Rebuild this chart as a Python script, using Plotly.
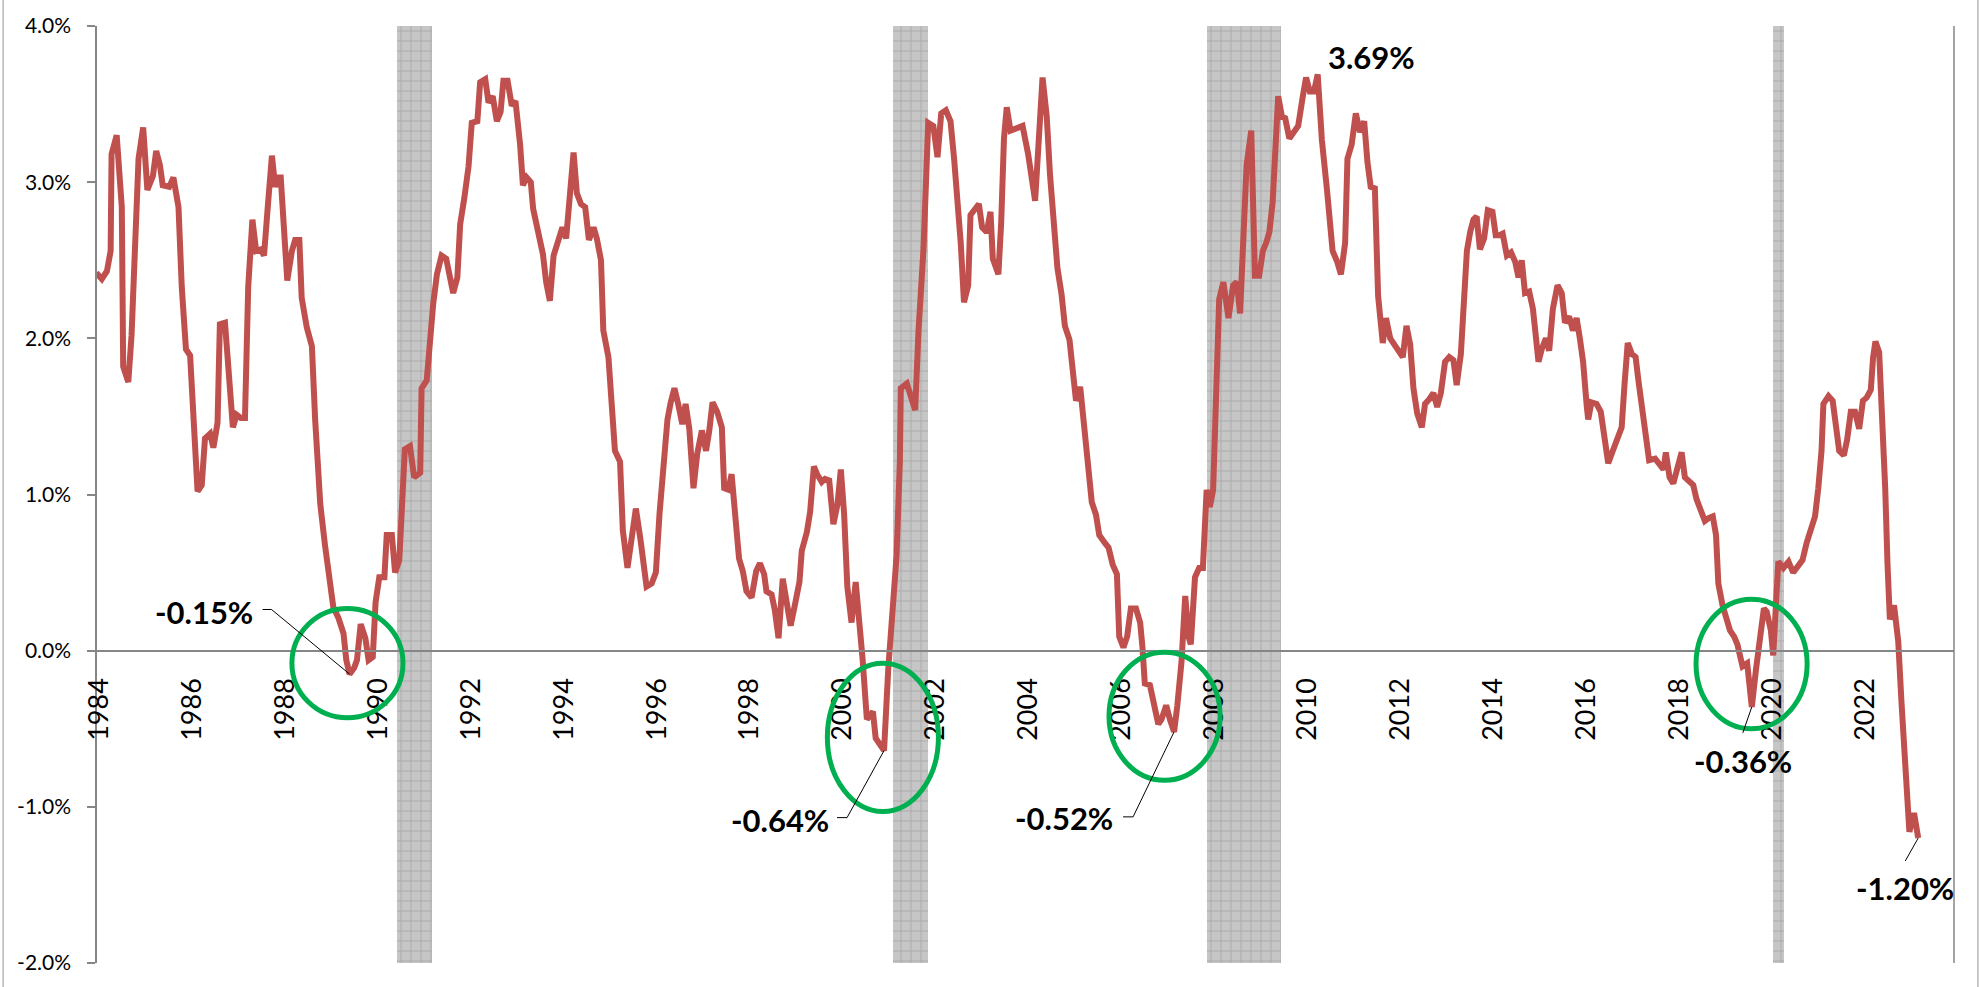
import plotly.graph_objects as go

# Monthly spread series (decimal year, percent)
years = [
    1983.94, 1984.06, 1984.17, 1984.25, 1984.27, 1984.38, 1984.49, 1984.52, 1984.63, 1984.70,
    1984.85, 1984.95, 1985.04, 1985.16, 1985.23, 1985.31, 1985.37, 1985.51, 1985.60, 1985.71,
    1985.78, 1985.87, 1985.96, 1986.03, 1986.12, 1986.21, 1986.28, 1986.39, 1986.46, 1986.55,
    1986.60, 1986.71, 1986.80, 1986.88, 1986.96, 1987.05, 1987.14, 1987.21, 1987.30, 1987.38,
    1987.48, 1987.55, 1987.63, 1987.72, 1987.79, 1987.85, 1987.91, 1987.97, 1988.05, 1988.15,
    1988.22, 1988.31, 1988.36, 1988.47, 1988.58, 1988.65, 1988.76, 1988.86, 1988.97, 1989.04,
    1989.15, 1989.26, 1989.32, 1989.39, 1989.49, 1989.55, 1989.63, 1989.73, 1989.80, 1989.89,
    1989.95, 1990.03, 1990.14, 1990.19, 1990.30, 1990.37, 1990.46, 1990.58, 1990.69, 1990.78,
    1990.91, 1990.94, 1991.05, 1991.12, 1991.19, 1991.27, 1991.37, 1991.47, 1991.55, 1991.62,
    1991.71, 1991.77, 1991.86, 1991.95, 1992.02, 1992.14, 1992.20, 1992.31, 1992.38, 1992.47,
    1992.56, 1992.64, 1992.70, 1992.79, 1992.88, 1992.96, 1993.06, 1993.12, 1993.20, 1993.29,
    1993.34, 1993.45, 1993.55, 1993.62, 1993.70, 1993.78, 1993.88, 1993.97, 1994.05, 1994.13,
    1994.21, 1994.28, 1994.37, 1994.46, 1994.54, 1994.64, 1994.71, 1994.80, 1994.85, 1994.96,
    1995.03, 1995.10, 1995.21, 1995.27, 1995.37, 1995.47, 1995.55, 1995.65, 1995.78, 1995.89,
    1995.98, 1996.06, 1996.14, 1996.23, 1996.30, 1996.38, 1996.46, 1996.55, 1996.62, 1996.70,
    1996.79, 1996.87, 1996.97, 1997.06, 1997.13, 1997.20, 1997.30, 1997.40, 1997.45, 1997.54,
    1997.61, 1997.68, 1997.77, 1997.85, 1997.93, 1998.04, 1998.14, 1998.22, 1998.31, 1998.36,
    1998.47, 1998.54, 1998.62, 1998.71, 1998.80, 1998.88, 1998.97, 1999.07, 1999.12, 1999.23,
    1999.30, 1999.38, 1999.45, 1999.55, 1999.62, 1999.71, 1999.80, 1999.89, 1999.96, 2000.03,
    2000.10, 2000.19, 2000.28, 2000.35, 2000.43, 2000.52, 2000.65, 2000.71, 2000.79, 2000.89,
    2000.98, 2001.09, 2001.16, 2001.23, 2001.25, 2001.38, 2001.45, 2001.56, 2001.63, 2001.74,
    2001.84, 2001.95, 2002.04, 2002.12, 2002.22, 2002.32, 2002.40, 2002.47, 2002.54, 2002.61,
    2002.70, 2002.75, 2002.84, 2002.93, 2003.00, 2003.10, 2003.18, 2003.23, 2003.35, 2003.41,
    2003.47, 2003.53, 2003.61, 2003.72, 2003.87, 2003.99, 2004.14, 2004.30, 2004.39, 2004.46,
    2004.53, 2004.62, 2004.71, 2004.78, 2004.88, 2004.95, 2005.02, 2005.11, 2005.19, 2005.27,
    2005.36, 2005.45, 2005.52, 2005.64, 2005.72, 2005.81, 2005.90, 2005.95, 2006.04, 2006.12,
    2006.20, 2006.31, 2006.40, 2006.45, 2006.50, 2006.61, 2006.70, 2006.79, 2006.86, 2006.96,
    2007.04, 2007.13, 2007.20, 2007.29, 2007.37, 2007.44, 2007.49, 2007.58, 2007.67, 2007.75,
    2007.83, 2007.90, 2007.97, 2008.05, 2008.10, 2008.19, 2008.30, 2008.40, 2008.48, 2008.55,
    2008.63, 2008.69, 2008.79, 2008.84, 2008.87, 2008.96, 2009.04, 2009.11, 2009.18, 2009.25,
    2009.30, 2009.37, 2009.45, 2009.52, 2009.61, 2009.70, 2009.80, 2009.90, 2009.97, 2010.05,
    2010.14, 2010.22, 2010.31, 2010.42, 2010.54, 2010.64, 2010.72, 2010.81, 2010.86, 2010.95,
    2011.04, 2011.13, 2011.22, 2011.29, 2011.36, 2011.45, 2011.52, 2011.62, 2011.69, 2011.78,
    2011.86, 2011.95, 2012.05, 2012.13, 2012.21, 2012.28, 2012.36, 2012.46, 2012.53, 2012.62,
    2012.71, 2012.79, 2012.87, 2012.96, 2013.05, 2013.14, 2013.21, 2013.30, 2013.35, 2013.43,
    2013.50, 2013.57, 2013.64, 2013.71, 2013.80, 2013.88, 2013.98, 2014.05, 2014.13, 2014.20,
    2014.29, 2014.38, 2014.47, 2014.54, 2014.61, 2014.68, 2014.77, 2014.85, 2014.90, 2014.97,
    2015.04, 2015.13, 2015.20, 2015.28, 2015.38, 2015.47, 2015.54, 2015.63, 2015.71, 2015.79,
    2015.86, 2015.93, 2016.01, 2016.04, 2016.11, 2016.22, 2016.31, 2016.38, 2016.47, 2016.57,
    2016.67, 2016.76, 2016.82, 2016.89, 2016.98, 2017.06, 2017.12, 2017.19, 2017.26, 2017.35,
    2017.48, 2017.57, 2017.66, 2017.71, 2017.79, 2017.87, 2017.96, 2018.05, 2018.12, 2018.22,
    2018.30, 2018.37, 2018.45, 2018.55, 2018.64, 2018.72, 2018.79, 2018.84, 2018.93, 2019.02,
    2019.09, 2019.18, 2019.25, 2019.32, 2019.36, 2019.46, 2019.56, 2019.65, 2019.74, 2019.82,
    2019.88, 2019.97, 2020.02, 2020.09, 2020.13, 2020.24, 2020.35, 2020.45, 2020.56, 2020.65,
    2020.74, 2020.83, 2020.92, 2020.99, 2021.06, 2021.10, 2021.21, 2021.30, 2021.37, 2021.44,
    2021.54, 2021.61, 2021.69, 2021.78, 2021.87, 2021.95, 2022.03, 2022.12, 2022.17, 2022.22,
    2022.30, 2022.35, 2022.43, 2022.48, 2022.53, 2022.62, 2022.71, 2022.78, 2022.86, 2022.95,
    2023.05, 2023.14,
]

spread = [
    2.42, 2.38, 2.43, 2.56, 3.18, 3.30, 2.84, 1.82, 1.72, 2.02,
    3.15, 3.35, 2.95, 3.04, 3.20, 3.11, 2.98, 2.97, 3.03, 2.84,
    2.33, 1.93, 1.89, 1.48, 1.02, 1.06, 1.36, 1.39, 1.30, 1.46,
    2.09, 2.10, 1.70, 1.43, 1.51, 1.49, 1.49, 2.33, 2.76, 2.56,
    2.57, 2.53, 2.84, 3.17, 2.97, 3.03, 3.03, 2.76, 2.37, 2.56,
    2.63, 2.63, 2.26, 2.07, 1.95, 1.48, 0.94, 0.68, 0.43, 0.28,
    0.21, 0.11, -0.06, -0.15, -0.11, -0.06, 0.17, 0.08, -0.06, -0.04,
    0.31, 0.47, 0.47, 0.74, 0.74, 0.50, 0.58, 1.29, 1.31, 1.11,
    1.14, 1.68, 1.73, 1.99, 2.22, 2.41, 2.53, 2.51, 2.39, 2.29,
    2.39, 2.73, 2.90, 3.10, 3.38, 3.39, 3.64, 3.66, 3.51, 3.55,
    3.39, 3.45, 3.65, 3.65, 3.49, 3.52, 3.24, 2.98, 3.03, 3.00,
    2.83, 2.67, 2.54, 2.36, 2.24, 2.53, 2.64, 2.71, 2.64, 2.90,
    3.19, 2.93, 2.86, 2.84, 2.63, 2.71, 2.64, 2.50, 2.05, 1.88,
    1.51, 1.28, 1.21, 0.77, 0.53, 0.74, 0.91, 0.71, 0.41, 0.43,
    0.50, 0.88, 1.22, 1.48, 1.59, 1.68, 1.58, 1.45, 1.58, 1.42,
    1.04, 1.26, 1.41, 1.28, 1.41, 1.59, 1.53, 1.43, 1.04, 1.03,
    1.13, 0.91, 0.59, 0.51, 0.38, 0.34, 0.51, 0.56, 0.49, 0.38,
    0.36, 0.26, 0.08, 0.46, 0.31, 0.16, 0.29, 0.44, 0.64, 0.76,
    0.89, 1.18, 1.13, 1.08, 1.10, 1.09, 0.81, 0.94, 1.16, 0.88,
    0.41, 0.18, 0.44, 0.24, -0.06, -0.44, -0.39, -0.56, -0.60, -0.64,
    -0.12, 0.28, 0.61, 1.21, 1.68, 1.71, 1.64, 1.54, 2.04, 2.58,
    3.38, 3.36, 3.16, 3.44, 3.46, 3.39, 3.14, 2.91, 2.61, 2.23,
    2.34, 2.79, 2.82, 2.86, 2.71, 2.68, 2.81, 2.51, 2.41, 2.74,
    3.28, 3.48, 3.33, 3.34, 3.36, 3.18, 2.88, 3.67, 3.42, 3.05,
    2.74, 2.45, 2.28, 2.08, 1.99, 1.82, 1.60, 1.69, 1.48, 1.20,
    0.95, 0.87, 0.74, 0.69, 0.66, 0.55, 0.49, 0.09, 0.02, 0.09,
    0.27, 0.27, 0.18, 0.02, -0.21, -0.22, -0.35, -0.47, -0.44, -0.35,
    -0.44, -0.52, -0.35, -0.07, 0.35, 0.09, 0.04, 0.47, 0.53, 0.53,
    1.03, 0.92, 1.03, 1.88, 2.25, 2.36, 2.13, 2.34, 2.36, 2.16,
    2.81, 3.11, 3.33, 2.87, 2.40, 2.40, 2.56, 2.61, 2.68, 2.87,
    3.18, 3.55, 3.42, 3.41, 3.28, 3.32, 3.36, 3.55, 3.67, 3.58,
    3.58, 3.69, 3.27, 2.95, 2.56, 2.49, 2.41, 2.61, 3.15, 3.24,
    3.44, 3.32, 3.39, 3.13, 2.97, 2.96, 2.27, 1.97, 2.13, 2.00,
    1.96, 1.93, 1.88, 2.08, 1.96, 1.68, 1.52, 1.43, 1.58, 1.61,
    1.65, 1.56, 1.65, 1.85, 1.88, 1.86, 1.70, 1.90, 2.19, 2.56,
    2.68, 2.76, 2.78, 2.57, 2.64, 2.82, 2.81, 2.66, 2.66, 2.67,
    2.53, 2.55, 2.49, 2.39, 2.50, 2.29, 2.30, 2.19, 2.05, 1.85,
    1.93, 2.00, 1.92, 2.19, 2.34, 2.29, 2.10, 2.14, 2.05, 2.13,
    2.00, 1.85, 1.56, 1.48, 1.59, 1.58, 1.53, 1.36, 1.20, 1.28,
    1.36, 1.43, 1.70, 1.97, 1.90, 1.88, 1.73, 1.55, 1.42, 1.22,
    1.23, 1.20, 1.16, 1.27, 1.11, 1.07, 1.18, 1.27, 1.11, 1.08,
    1.06, 0.97, 0.90, 0.83, 0.85, 0.86, 0.74, 0.43, 0.29, 0.20,
    0.13, 0.09, 0.04, -0.05, -0.10, -0.08, -0.36, -0.12, 0.11, 0.27,
    0.25, 0.13, -0.03, 0.34, 0.57, 0.53, 0.57, 0.50, 0.55, 0.58,
    0.69, 0.79, 0.86, 1.04, 1.28, 1.58, 1.63, 1.60, 1.44, 1.28,
    1.25, 1.35, 1.53, 1.53, 1.42, 1.60, 1.62, 1.67, 1.88, 1.98,
    1.91, 1.60, 1.04, 0.55, 0.20, 0.29, 0.06, -0.33, -0.75, -1.16,
    -1.04, -1.20,
]

# Recession periods (decimal years)
rec_start = [1990.42, 2001.08, 2007.84, 2020.02]
rec_end = [1991.17, 2001.84, 2009.43, 2020.26]

# Axis ticks
x_ticks = list(range(1984, 2023, 2))
y_ticks = [-2, -1, 0, 1, 2, 3, 4]
y_tick_text = ["-2.0%", "-1.0%", "0.0%", "1.0%", "2.0%", "3.0%", "4.0%"]

# Highlighted turning points: (year, value, text offset px, leader path px, text anchor)
callouts = [
    (1989.39, -0.15, (-95, 62), "M0,0 L-78,64.6 L-87,64.6", "right"),
    (2000.89, -0.64, (-53, -69), "M0,0 L-37,-67 L-47,-67", "right"),
    (2007.13, -0.52, (-59, -86), "M0,0 L-41,-85 L-51,-85", "right"),
    (2019.56, -0.36, (-9, -54), "M0,0 L-9,-26", "center"),
    (2023.14, -1.20, (-13, -50), "M0,0 L-13,-23", "center"),
    (2010.22, 3.69, (54, 17), None, "center"),
]

# Circled troughs: (x0, x1, y0, y1) in axis units
circles = [
    (1988.15, 1990.54, -0.43, 0.27),
    (1999.67, 2002.06, -1.03, -0.08),
    (2005.73, 2008.12, -0.83, -0.01),
    (2018.36, 2020.75, -0.50, 0.33),
]

RED = "#C0504D"
GREEN = "#00B050"
AXIS = "#868686"
FONT = "Lato"

fig = go.Figure()

# Shaded recession bands with a grid hatch
fig.add_trace(go.Bar(
    x=[(a + b) / 2 for a, b in zip(rec_start, rec_end)],
    y=[6] * len(rec_start),
    base=-2,
    width=[b - a for a, b in zip(rec_start, rec_end)],
    marker=dict(
        color="#c6c6c6",
        line=dict(width=0),
        pattern=dict(shape="+", size=10, solidity=0.18,
                     fgcolor="#8e8e8e", bgcolor="#c6c6c6"),
    ),
    hoverinfo="skip",
    showlegend=False,
))

fig.add_trace(go.Scatter(
    x=years, y=spread, mode="lines",
    line=dict(color=RED, width=6),
    showlegend=False,
))

shapes = []
for x0, x1, y0, y1 in circles:
    shapes.append(dict(type="circle", xref="x", yref="y", x0=x0, x1=x1, y0=y0, y1=y1,
                       line=dict(color=GREEN, width=5), layer="above"))

annotations = []
for yr, val, (dx, dy), path, anchor in callouts:
    if path:
        shapes.append(dict(type="path", xref="x", yref="y",
                           xsizemode="pixel", ysizemode="pixel",
                           xanchor=yr, yanchor=val, path=path,
                           line=dict(color="black", width=1)))
    annotations.append(dict(
        x=yr, y=val, xref="x", yref="y", text=f"{val:.2f}%",
        showarrow=False, xanchor=anchor, yanchor="middle",
        xshift=dx, yshift=dy,
        font=dict(family=FONT, size=31, color="black", weight="bold"),
    ))

# Right edge of the plot area and outer chart frame
shapes.append(dict(type="line", xref="paper", yref="paper", x0=1, x1=1, y0=0, y1=1,
                   line=dict(color=AXIS, width=1.5)))
for xp in (-0.0500, 1.0129):
    shapes.append(dict(type="line", xref="paper", yref="paper", x0=xp, x1=xp,
                       y0=-0.03, y1=1.03, line=dict(color="#a6a6a6", width=1.2)))

fig.update_layout(
    width=1979, height=987,
    margin=dict(l=96, r=25, t=20, b=24),
    paper_bgcolor="white", plot_bgcolor="white",
    shapes=shapes, annotations=annotations,
    bargap=0,
    font=dict(family=FONT, color="black"),
    xaxis=dict(
        range=[1983.935, 2023.91],
        anchor="free", position=1 / 3,
        showgrid=False, zeroline=False,
        showline=True, linecolor=AXIS, linewidth=1.5,
        tickmode="array", tickvals=x_ticks, ticktext=[str(t) for t in x_ticks],
        tickangle=-90, ticks="", ticklabelstandoff=16,
        tickfont=dict(family=FONT, size=27, color="black"),
    ),
    yaxis=dict(
        range=[-2, 4],
        anchor="free", position=0,
        showgrid=False, zeroline=False,
        showline=True, linecolor=AXIS, linewidth=1.5,
        tickmode="array", tickvals=y_ticks, ticktext=y_tick_text,
        ticks="outside", ticklen=8, tickcolor=AXIS, tickwidth=1.5,
        ticklabelstandoff=12,
        tickfont=dict(family=FONT, size=21, color="black"),
    ),
)

fig.write_html("out.html")
